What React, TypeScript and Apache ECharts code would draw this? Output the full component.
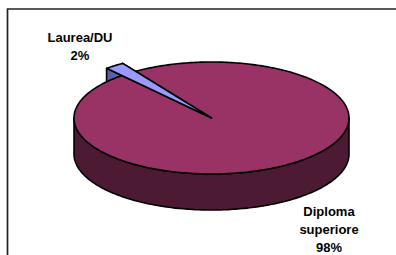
import React, { useEffect, useRef } from "react";
import * as echarts from "echarts";

const categories = ["Diploma superiore", "Laurea/DU"];
const values = [98, 2];
const topColors = ["#993366", "#9999FF"];
const sideColors = ["#4D1A33", "#5E5EA8"];
const radiusScale = [1, 1.17];
// label anchors (layout only)
const labelPos = [
  [329, 229],
  [80, 46],
];

export default function App() {
  const ref = useRef<HTMLDivElement>(null);
  useEffect(() => {
    if (!ref.current) return;
    const chart = echarts.init(ref.current, undefined, { renderer: "svg" });
    const cx = 211.5, cy = 118, rx = 137.5, ry = 56, depth = 36;
    const startAngle = 123.5; // degrees, slices go clockwise
    const total = values.reduce((a, b) => a + b, 0);
    const slices: { lo: number; hi: number; k: number }[] = [];
    let cur = startAngle;
    values.forEach((v, i) => {
      const sweep = (v / total) * 360;
      slices.push({ lo: cur - sweep, hi: cur, k: radiusScale[i] });
      cur -= sweep;
    });
    const pt = (deg: number, k: number, dz = 0) => {
      const a = (deg * Math.PI) / 180;
      return [cx + k * rx * Math.cos(a), cy - k * ry * Math.sin(a) + dz];
    };
    const arc = (lo: number, hi: number, k: number, dz = 0) => {
      const pts: number[][] = [];
      const n = Math.max(2, Math.ceil(hi - lo));
      for (let j = 0; j <= n; j++) pts.push(pt(lo + ((hi - lo) * j) / n, k, dz));
      return pts;
    };
    const stroke = { stroke: "#000", lineWidth: 1.6, lineJoin: "round" };
    // draw order: small slice faces, big slice faces/wall/top, small slice top
    const zFace = [2, 1], zWall = [3, 1], zTop = [4, 5];
    const renderItem = (params: any) => {
      const i = params.dataIndex;
      const s = slices[i];
      const children: any[] = [];
      const tip = [cx, cy];
      [s.lo, s.hi].forEach((e) => {
        const r = pt(e, s.k);
        children.push({
          type: "polygon",
          z2: zFace[i],
          shape: { points: [tip, r, [r[0], r[1] + depth], [tip[0], tip[1] + depth]] },
          style: { fill: sideColors[i], ...stroke },
        });
      });
      for (let m = -1; m <= 1; m++) {
        const a = Math.max(s.lo, 180 + 360 * m), b = Math.min(s.hi, 360 + 360 * m);
        if (b > a) {
          const top = arc(a, b, s.k);
          const bot = arc(a, b, s.k, depth).reverse();
          children.push({
            type: "polygon",
            z2: zWall[i],
            shape: { points: top.concat(bot) },
            style: { fill: sideColors[i], ...stroke },
          });
        }
      }
      children.push({
        type: "polygon",
        z2: zTop[i],
        shape: { points: [tip].concat(arc(s.lo, s.hi, s.k)) },
        style: { fill: topColors[i], ...stroke },
      });
      const pct = Math.round((values[i] / total) * 100);
      children.push({
        type: "text",
        z2: 50,
        x: labelPos[i][0],
        y: labelPos[i][1],
        style: {
          text: categories[i].split(" ").join("\n") + "\n" + pct + "%",
          align: "center",
          verticalAlign: "middle",
          fill: "#000",
          font: "bold 13px 'Liberation Sans', Arial, sans-serif",
          lineHeight: 18,
        },
      });
      return { type: "group", children };
    };
    chart.setOption({
      animation: false,
      backgroundColor: "#fff",
      graphic: [
        {
          type: "rect",
          shape: { x: 7.5, y: 9, width: 600, height: 600 },
          style: { fill: "none", stroke: "#222", lineWidth: 1.7 },
          silent: true,
        },
      ],
      series: [
        {
          type: "custom",
          coordinateSystem: "none",
          renderItem,
          data: categories.map((c, i) => ({ name: c, value: values[i] })),
        },
      ],
    });
    return () => chart.dispose();
  }, []);
  return <div ref={ref} style={{ position: "absolute", left: 0, top: 0, width: 396, height: 255 }} />;
}
